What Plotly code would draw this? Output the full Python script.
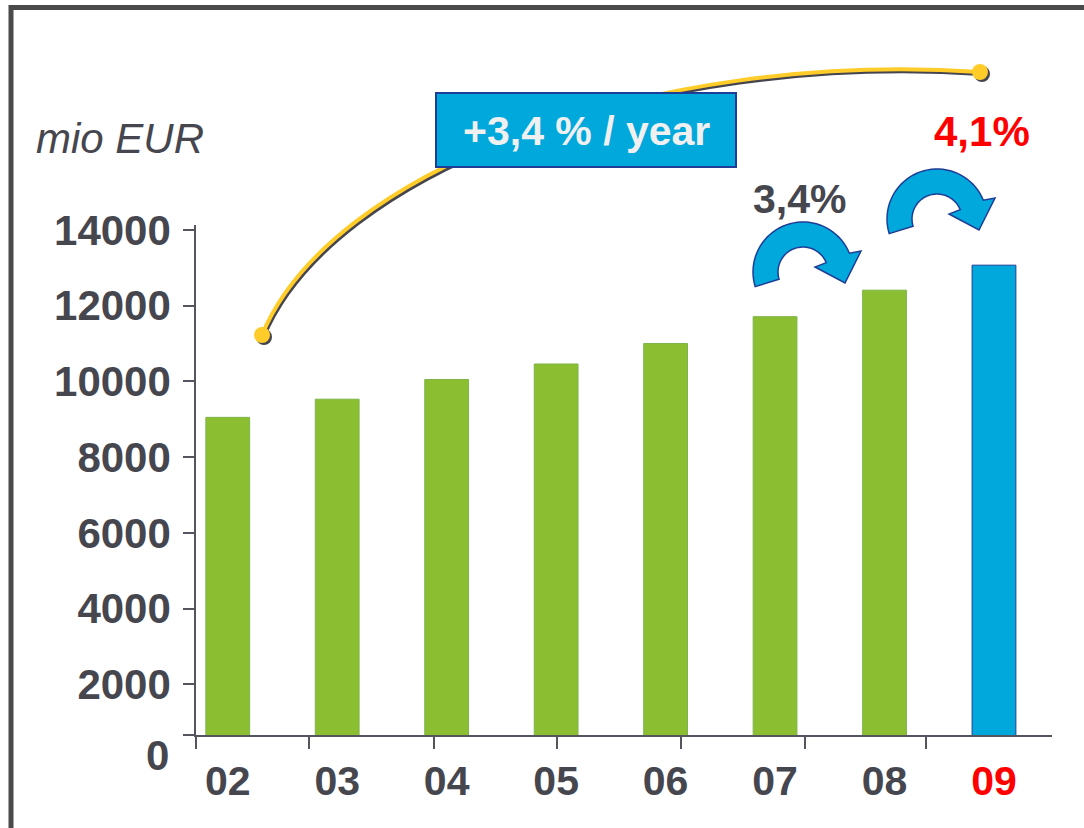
import math
import plotly.graph_objects as go

# ---- data ----
years = ["02", "03", "04", "05", "06", "07", "08", "09"]
revenue = [9050, 9530, 10050, 10460, 11000, 11710, 12410, 13070]
bar_colors = ["#8BBE31"] * 7 + ["#00A8DC"]
bar_lines = ["#7DB54A"] * 7 + ["#1F3C96"]
ytick_vals = [660, 2000, 4000, 6000, 8000, 10000, 12000, 14000]
ytick_text = ["", "2000", "4000", "6000", "8000", "10000", "12000", "14000"]
xtick_marks = [-0.29, 0.745, 1.881, 3.010, 4.142, 5.272, 6.377]
growth_labels = ["3,4%", "4,1%"]
cagr_label = "+3,4 % / year"
unit_label = "mio EUR"

W, H = 1084, 828
L, R, T, B = 196, 32, 225, 93
PW, PH = W - L - R, H - T - B
DARK = "#46464F"
FONT = "Liberation Sans, Arial, sans-serif"


def px(x):
    return (x - L) / PW


def py(y):
    return (H - B - y) / PH


fig = go.Figure()
fig.add_trace(go.Bar(
    x=years, y=revenue, width=0.40,
    marker=dict(color=bar_colors, line=dict(color=bar_lines, width=1)),
    hoverinfo="skip", showlegend=False,
))
# helper trace for the tick-mark axis
fig.add_trace(go.Scatter(x=[0], y=[1000], xaxis="x2", mode="markers",
                         marker=dict(opacity=0), hoverinfo="skip", showlegend=False))

tick_text = [("<span style='color:#FF0000'>%s</span>" % y) if y == "09" else y for y in years]

fig.update_layout(
    width=W, height=H,
    margin=dict(l=L, r=R, t=T, b=B),
    paper_bgcolor="white", plot_bgcolor="white",
    font=dict(family=FONT, color=DARK),
    xaxis=dict(
        type="category", range=[-0.29, 7.53],
        tickmode="array", tickvals=years, ticktext=tick_text,
        ticks="", showline=True, linecolor="#55555F", linewidth=1.5,
        showgrid=False, zeroline=False,
        tickfont=dict(size=41, color=DARK, family=FONT, weight="bold"),
        ticklabelstandoff=9,
    ),
    xaxis2=dict(
        overlaying="x", anchor="y", side="bottom", range=[-0.29, 7.53],
        tickmode="array", tickvals=xtick_marks, ticktext=[""] * len(xtick_marks),
        ticks="outside", ticklen=13, tickwidth=1.5, tickcolor="#55555F",
        showline=False, showgrid=False, zeroline=False,
    ),
    yaxis=dict(
        range=[660, 14131],
        tickmode="array", tickvals=ytick_vals, ticktext=ytick_text,
        ticks="outside", ticklen=11, tickwidth=1.5, tickcolor="#55555F",
        showline=True, linecolor="#55555F", linewidth=1.5,
        showgrid=False, zeroline=False,
        tickfont=dict(size=42, color=DARK, family=FONT, weight="bold"),
        ticklabelstandoff=4,
    ),
)

shapes = []
# outer frame
shapes.append(dict(type="rect", xref="paper", yref="paper",
                   x0=px(11), x1=px(1095), y0=py(7.5), y1=py(840),
                   line=dict(color="#4A4A4A", width=5), fillcolor="rgba(0,0,0,0)", layer="below"))

# yellow trend arc (shadow then line)
P = [(262, 335), (330, 170), (650, 50), (980, 72)]


def bez(pts, dx=0.0, dy=0.0):
    (a, b), (c, d), (e, f), (g, h) = pts
    return "M %f,%f C %f,%f %f,%f %f,%f" % (
        px(a + dx), py(b + dy), px(c + dx), py(d + dy), px(e + dx), py(f + dy), px(g + dx), py(h + dy))


shapes.append(dict(type="path", xref="paper", yref="paper", path=bez(P, 1.5, 2),
                   line=dict(color="#45454F", width=4)))
shapes.append(dict(type="path", xref="paper", yref="paper", path=bez(P),
                   line=dict(color="#FFCC29", width=4)))
for (cx, cy) in (P[0], P[3]):
    for dx, col in ((2, "#45454F"), (0, "#FFCC29")):
        shapes.append(dict(type="circle", xref="paper", yref="paper",
                           x0=px(cx - 8 + dx), x1=px(cx + 8 + dx), y0=py(cy - 8 + dx), y1=py(cy + 8 + dx),
                           fillcolor=col, line=dict(width=0)))

# blue box behind CAGR label
shapes.append(dict(type="rect", xref="paper", yref="paper",
                   x0=px(436), x1=px(736), y0=py(167), y1=py(93),
                   fillcolor="#00A8DC", line=dict(color="#1F3C96", width=2)))


def curved_arrow(cx, cy):
    Ro, Ri = 50, 25
    a0, a1 = 197, 22
    n = 40
    pts = []
    for i in range(n + 1):
        a = math.radians(a0 + (a1 - a0) * i / n)
        pts.append((cx + Ro * math.cos(a), cy - Ro * math.sin(a)))
    pts += [(cx + 58, cy - 21), (cx + 42, cy + 11), (cx + 12, cy - 5)]
    for i in range(n + 1):
        a = math.radians(a1 + (a0 - a1) * i / n)
        pts.append((cx + Ri * math.cos(a), cy - Ri * math.sin(a)))
    s = "M " + " L ".join("%f,%f" % (px(x), py(y)) for x, y in pts) + " Z"
    return dict(type="path", xref="paper", yref="paper", path=s,
                fillcolor="#00A8DC", line=dict(color="#1F3C96", width=1.5))


shapes.append(curved_arrow(803, 272))
shapes.append(curved_arrow(937, 219))
fig.update_layout(shapes=shapes)

ann = []
ann.append(dict(xref="paper", yref="paper", x=px(586), y=py(131), text="<b>%s</b>" % cagr_label,
                showarrow=False, xanchor="center", yanchor="middle",
                font=dict(size=41, color="#F0F0F0", family=FONT)))
ann.append(dict(xref="paper", yref="paper", x=px(799), y=py(199), text="<b>%s</b>" % growth_labels[0],
                showarrow=False, xanchor="center", yanchor="middle",
                font=dict(size=41, color=DARK, family=FONT)))
ann.append(dict(xref="paper", yref="paper", x=px(982), y=py(131), text="<b>%s</b>" % growth_labels[1],
                showarrow=False, xanchor="center", yanchor="middle",
                font=dict(size=42, color="#FF0000", family=FONT)))
ann.append(dict(xref="paper", yref="paper", x=px(34), y=py(139), text="<i>%s</i>" % unit_label,
                showarrow=False, xanchor="left", yanchor="middle",
                font=dict(size=42, color=DARK, family=FONT)))
ann.append(dict(xref="paper", yref="paper", x=px(171), y=py(755), text="<b>0</b>",
                showarrow=False, xanchor="right", yanchor="middle",
                font=dict(size=42, color=DARK, family=FONT)))
fig.update_layout(annotations=ann)

fig.write_html("out.html", config={"displayModeBar": False},
               post_script="document.body.style.margin='0';")
